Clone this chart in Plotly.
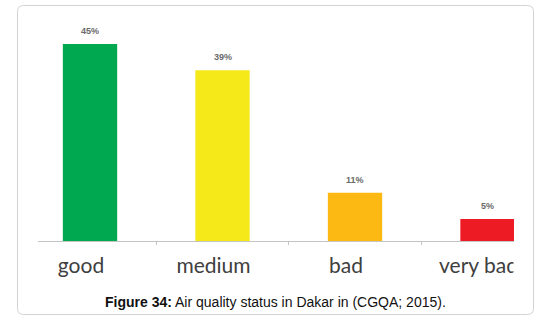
import plotly.graph_objects as go

categories = ["good", "medium", "bad", "very bad"]
values = [45, 39, 11, 5]
labels = ["45%", "39%", "11%", "5%"]
colors = ["#00A84F", "#F5E91A", "#FDB913", "#ED1C24"]
caption_bold = "Figure 34:"
caption_rest = " Air quality status in Dakar in (CGQA; 2015)."

W, H = 544, 326
L, R, T, B = 38, 514, 20, 241


def px(x):
    return (x - L) / (R - L)


def py(y):
    return (B - y) / (B - T)


fig = go.Figure(go.Bar(
    x=categories, y=values,
    marker=dict(color=colors, line=dict(width=0)),
    width=0.41,
))

annotations = []
for c, v, t in zip(categories, values, labels):
    annotations.append(dict(
        x=c, y=v, xref="x", yref="y", text=f"<b>{t}</b>", showarrow=False,
        yanchor="bottom", yshift=6,
        font=dict(family="Liberation Sans", size=9, color="#6a6a6a"),
    ))

# rounded border path
x0, x1, y0, y1, r = 17.5, 533.5, 5.5, 314.5, 6
path = (f"M {px(x0+r)},{py(y0)} L {px(x1-r)},{py(y0)} Q {px(x1)},{py(y0)} {px(x1)},{py(y0+r)} "
        f"L {px(x1)},{py(y1-r)} Q {px(x1)},{py(y1)} {px(x1-r)},{py(y1)} "
        f"L {px(x0+r)},{py(y1)} Q {px(x0)},{py(y1)} {px(x0)},{py(y1-r)} "
        f"L {px(x0)},{py(y0+r)} Q {px(x0)},{py(y0)} {px(x0+r)},{py(y0)} Z")

annotations.append(dict(
    xref="paper", yref="paper", x=px(275), y=py(302),
    xanchor="center", yanchor="middle", showarrow=False,
    text=f"<b>{caption_bold}</b>{caption_rest}",
    font=dict(family="Liberation Sans", size=14, color="#111111"),
))

fig.update_layout(
    width=W, height=H,
    margin=dict(l=L, r=W - R, t=T, b=H - B),
    paper_bgcolor="white", plot_bgcolor="white",
    showlegend=False,
    xaxis=dict(
        range=[-0.3925, 3.2], showgrid=False, zeroline=False,
        showline=True, linecolor="#C4C4C4", linewidth=1,
        ticks="outside", tickson="boundaries", ticklen=3, tickcolor="#C4C4C4",
        tickfont=dict(family="Lato", size=21, color="#404040"),
        ticklabelstandoff=6, ticklabelshift=-9,
    ),
    yaxis=dict(range=[0, 50.46], visible=False),
    shapes=[
        dict(type="path", xref="paper", yref="paper", path=path,
             line=dict(color="#D3D3D3", width=1), layer="above"),
        dict(type="rect", xref="paper", yref="paper",
             x0=px(513.5), x1=px(531), y0=py(248), y1=py(290),
             fillcolor="white", line=dict(width=0), layer="above"),
    ],
    annotations=annotations,
)

fig.write_html("out.html", config={"displayModeBar": False},
               post_script="document.body.style.margin='0';")
